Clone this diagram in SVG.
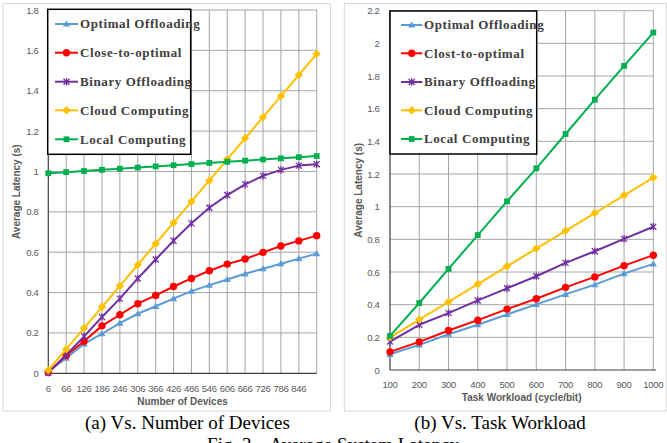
<svg xmlns="http://www.w3.org/2000/svg" xmlns:xlink="http://www.w3.org/1999/xlink" width="667" height="443" viewBox="0 0 667 443">
  <style>
    .frame { fill: #ffffff; stroke: #d9d9d9; stroke-width: 1; }
    .grid { stroke: #a6a6a6; stroke-width: 1; fill: none; }
    .axis { stroke: #404040; stroke-width: 1.2; fill: none; }
    .tick { font-family: "Liberation Sans", Arial, sans-serif; font-size: 9.5px; fill: #595959; letter-spacing: -0.3px; }
    .title { font-family: "Liberation Sans", Arial, sans-serif; font-size: 10px; font-weight: bold; fill: #595959; }
    .legbox { fill: #ffffff; stroke: #000000; stroke-width: 1.5; }
    .legtxt { font-family: "Liberation Serif", "Times New Roman", serif; font-size: 13px; font-weight: bold; fill: #404040; letter-spacing: 0.6px; }
    .caption { font-family: "Liberation Serif", "Times New Roman", serif; font-size: 19px; fill: #000000; white-space: pre; }
    .s-opt { stroke: #5b9bd5; stroke-width: 2; fill: none; stroke-linejoin: round; }
    .s-close { stroke: #ff0000; stroke-width: 2; fill: none; stroke-linejoin: round; }
    .s-bin { stroke: #7030a0; stroke-width: 2; fill: none; stroke-linejoin: round; }
    .s-cloud { stroke: #ffc000; stroke-width: 2; fill: none; stroke-linejoin: round; }
    .s-local { stroke: #00b050; stroke-width: 2; fill: none; stroke-linejoin: round; }
  </style>
  <defs>
    <polygon id="m-tri" points="0,-3.6 3.6,2.6 -3.6,2.6" fill="#5b9bd5"/>
    <circle id="m-dot" r="3.7" fill="#ff0000"/>
    <path id="m-star" d="M-3,-3L3,3M-3,3L3,-3M0,-3.8V3.8" stroke="#7030a0" stroke-width="1.3" fill="none"/>
    <polygon id="m-dia" points="0,-4.2 4.2,0 0,4.2 -4.2,0" fill="#ffc000"/>
    <rect id="m-sq" x="-2.9" y="-2.9" width="5.8" height="5.8" fill="#00b050"/>
  </defs>

  <!-- panel (a): latency vs number of devices -->
  <g id="chart-a">
    <rect class="frame" x="3" y="3.5" width="327.5" height="407.5"/>
    <g id="grid-a">
      <path class="grid" d="M48.3,10H316.7M48.3,50.37H316.7M48.3,90.73H316.7M48.3,131.1H316.7M48.3,171.47H316.7M48.3,211.83H316.7M48.3,252.2H316.7M48.3,292.57H316.7M48.3,332.93H316.7"/>
      <path class="grid" d="M66.19,10V373.3M84.09,10V373.3M101.98,10V373.3M119.87,10V373.3M137.77,10V373.3M155.66,10V373.3M173.55,10V373.3M191.44,10V373.3M209.34,10V373.3M227.23,10V373.3M245.12,10V373.3M263.02,10V373.3M280.91,10V373.3M298.8,10V373.3M316.7,10V373.3"/>
      <path class="axis" d="M48.3,10V373.3H316.7"/>
    </g>
    <g id="yticks-a" class="tick" text-anchor="end">
      <text x="38.5" y="376.8">0</text>
      <text x="38.5" y="336.4">0.2</text>
      <text x="38.5" y="296.1">0.4</text>
      <text x="38.5" y="255.7">0.6</text>
      <text x="38.5" y="215.3">0.8</text>
      <text x="38.5" y="175">1</text>
      <text x="38.5" y="134.6">1.2</text>
      <text x="38.5" y="94.2">1.4</text>
      <text x="38.5" y="53.9">1.6</text>
      <text x="38.5" y="13.5">1.8</text>
    </g>
    <g id="xticks-a" class="tick" text-anchor="middle">
      <text x="48.3" y="391.8">6</text>
      <text x="66.19" y="391.8">66</text>
      <text x="84.09" y="391.8">126</text>
      <text x="101.98" y="391.8">186</text>
      <text x="119.87" y="391.8">246</text>
      <text x="137.77" y="391.8">306</text>
      <text x="155.66" y="391.8">366</text>
      <text x="173.55" y="391.8">426</text>
      <text x="191.44" y="391.8">486</text>
      <text x="209.34" y="391.8">546</text>
      <text x="227.23" y="391.8">606</text>
      <text x="245.12" y="391.8">666</text>
      <text x="263.02" y="391.8">726</text>
      <text x="280.91" y="391.8">786</text>
      <text x="298.8" y="391.8">846</text>
    </g>
    <text class="title" x="182.5" y="404.5" text-anchor="middle">Number of Devices</text>
    <text class="title" transform="translate(20.3,191.7) rotate(-90)" text-anchor="middle">Average Latency (s)</text>
  </g>

  <!-- panel (b): latency vs task workload -->
  <g id="chart-b">
    <rect class="frame" x="344.3" y="3.5" width="322" height="407.5"/>
    <g id="grid-b">
      <path class="grid" d="M390,10.67H653.33M390,43.33H653.33M390,76H653.33M390,108.67H653.33M390,141.33H653.33M390,174H653.33M390,206.67H653.33M390,239.33H653.33M390,272H653.33M390,304.67H653.33M390,337.33H653.33"/>
      <path class="grid" d="M419.26,10.67V370M448.52,10.67V370M477.78,10.67V370M507.04,10.67V370M536.3,10.67V370M565.56,10.67V370M594.81,10.67V370M624.07,10.67V370M653.33,10.67V370"/>
      <path class="axis" d="M390,10.67V370H656"/>
    </g>
    <g id="yticks-b" class="tick" text-anchor="end">
      <text x="379.5" y="373.5">0</text>
      <text x="379.5" y="340.8">0.2</text>
      <text x="379.5" y="308.2">0.4</text>
      <text x="379.5" y="275.5">0.6</text>
      <text x="379.5" y="242.8">0.8</text>
      <text x="379.5" y="210.2">1</text>
      <text x="379.5" y="177.5">1.2</text>
      <text x="379.5" y="144.8">1.4</text>
      <text x="379.5" y="112.2">1.6</text>
      <text x="379.5" y="79.5">1.8</text>
      <text x="379.5" y="46.8">2</text>
      <text x="379.5" y="14.2">2.2</text>
    </g>
    <g id="xticks-b" class="tick" text-anchor="middle">
      <text x="390" y="387.5">100</text>
      <text x="419.26" y="387.5">200</text>
      <text x="448.52" y="387.5">300</text>
      <text x="477.78" y="387.5">400</text>
      <text x="507.04" y="387.5">500</text>
      <text x="536.3" y="387.5">600</text>
      <text x="565.56" y="387.5">700</text>
      <text x="594.81" y="387.5">800</text>
      <text x="624.07" y="387.5">900</text>
      <text x="653.33" y="387.5">1000</text>
    </g>
    <text class="title" x="521.7" y="401" text-anchor="middle">Task Workload (cycle/bit)</text>
    <text class="title" transform="translate(361.8,190.3) rotate(-90)" text-anchor="middle">Average Latency (s)</text>
  </g>

  <!-- data series -->
  <g id="series-a">
    <g id="a-opt">
      <polyline class="s-opt" points="48.3,371.3 66.19,358.16 84.09,343.83 101.98,333.74 119.87,323.04 137.77,313.76 155.66,306.29 173.55,298.62 191.44,291.15 209.34,285.1 227.23,279.45 245.12,273.8 263.02,268.75 280.91,263.71 298.8,258.66 316.7,253.62"/>
      <use href="#m-tri" x="48.3" y="371.3"/><use href="#m-tri" x="66.19" y="358.16"/><use href="#m-tri" x="84.09" y="343.83"/><use href="#m-tri" x="101.98" y="333.74"/><use href="#m-tri" x="119.87" y="323.04"/><use href="#m-tri" x="137.77" y="313.76"/><use href="#m-tri" x="155.66" y="306.29"/><use href="#m-tri" x="173.55" y="298.62"/><use href="#m-tri" x="191.44" y="291.15"/><use href="#m-tri" x="209.34" y="285.1"/><use href="#m-tri" x="227.23" y="279.45"/><use href="#m-tri" x="245.12" y="273.8"/><use href="#m-tri" x="263.02" y="268.75"/><use href="#m-tri" x="280.91" y="263.71"/><use href="#m-tri" x="298.8" y="258.66"/><use href="#m-tri" x="316.7" y="253.62"/>
    </g>
    <g id="a-close">
      <polyline class="s-close" points="48.3,372.29 66.19,355.54 84.09,341.21 101.98,325.87 119.87,314.77 137.77,303.67 155.66,295.39 173.55,286.51 191.44,278.44 209.34,270.77 227.23,264.11 245.12,259.06 263.02,252.4 280.91,245.94 298.8,240.9 316.7,235.65"/>
      <use href="#m-dot" x="48.3" y="372.29"/><use href="#m-dot" x="66.19" y="355.54"/><use href="#m-dot" x="84.09" y="341.21"/><use href="#m-dot" x="101.98" y="325.87"/><use href="#m-dot" x="119.87" y="314.77"/><use href="#m-dot" x="137.77" y="303.67"/><use href="#m-dot" x="155.66" y="295.39"/><use href="#m-dot" x="173.55" y="286.51"/><use href="#m-dot" x="191.44" y="278.44"/><use href="#m-dot" x="209.34" y="270.77"/><use href="#m-dot" x="227.23" y="264.11"/><use href="#m-dot" x="245.12" y="259.06"/><use href="#m-dot" x="263.02" y="252.4"/><use href="#m-dot" x="280.91" y="245.94"/><use href="#m-dot" x="298.8" y="240.9"/><use href="#m-dot" x="316.7" y="235.65"/>
    </g>
    <g id="a-bin">
      <polyline class="s-bin" points="48.3,372.7 66.19,354.93 84.09,336.37 101.98,316.99 119.87,298.62 137.77,278.44 155.66,259.47 173.55,240.7 191.44,223.34 209.34,207.8 227.23,195.08 245.12,184.39 263.02,175.91 280.91,169.86 298.8,165.62 316.7,164.21"/>
      <use href="#m-star" x="48.3" y="372.7"/><use href="#m-star" x="66.19" y="354.93"/><use href="#m-star" x="84.09" y="336.37"/><use href="#m-star" x="101.98" y="316.99"/><use href="#m-star" x="119.87" y="298.62"/><use href="#m-star" x="137.77" y="278.44"/><use href="#m-star" x="155.66" y="259.47"/><use href="#m-star" x="173.55" y="240.7"/><use href="#m-star" x="191.44" y="223.34"/><use href="#m-star" x="209.34" y="207.8"/><use href="#m-star" x="227.23" y="195.08"/><use href="#m-star" x="245.12" y="184.39"/><use href="#m-star" x="263.02" y="175.91"/><use href="#m-star" x="280.91" y="169.86"/><use href="#m-star" x="298.8" y="165.62"/><use href="#m-star" x="316.7" y="164.21"/>
    </g>
    <g id="a-cloud">
      <polyline class="s-cloud" points="48.3,370.27 66.19,349.18 84.09,328.09 101.98,306.99 119.87,285.91 137.77,264.81 155.66,243.72 173.55,222.63 191.44,201.54 209.34,180.45 227.23,159.36 245.12,138.27 263.02,117.17 280.91,96.08 298.8,74.99 316.7,53.9"/>
      <use href="#m-dia" x="48.3" y="370.27"/><use href="#m-dia" x="66.19" y="349.18"/><use href="#m-dia" x="84.09" y="328.09"/><use href="#m-dia" x="101.98" y="306.99"/><use href="#m-dia" x="119.87" y="285.91"/><use href="#m-dia" x="137.77" y="264.81"/><use href="#m-dia" x="155.66" y="243.72"/><use href="#m-dia" x="173.55" y="222.63"/><use href="#m-dia" x="191.44" y="201.54"/><use href="#m-dia" x="209.34" y="180.45"/><use href="#m-dia" x="227.23" y="159.36"/><use href="#m-dia" x="245.12" y="138.27"/><use href="#m-dia" x="263.02" y="117.17"/><use href="#m-dia" x="280.91" y="96.08"/><use href="#m-dia" x="298.8" y="74.99"/><use href="#m-dia" x="316.7" y="53.9"/>
    </g>
    <g id="a-local">
      <polyline class="s-local" points="48.3,173.28 66.19,172.13 84.09,170.98 101.98,169.83 119.87,168.68 137.77,167.53 155.66,166.38 173.55,165.23 191.44,164.08 209.34,162.93 227.23,161.78 245.12,160.63 263.02,159.48 280.91,158.32 298.8,157.17 316.7,156.02"/>
      <use href="#m-sq" x="48.3" y="173.28"/><use href="#m-sq" x="66.19" y="172.13"/><use href="#m-sq" x="84.09" y="170.98"/><use href="#m-sq" x="101.98" y="169.83"/><use href="#m-sq" x="119.87" y="168.68"/><use href="#m-sq" x="137.77" y="167.53"/><use href="#m-sq" x="155.66" y="166.38"/><use href="#m-sq" x="173.55" y="165.23"/><use href="#m-sq" x="191.44" y="164.08"/><use href="#m-sq" x="209.34" y="162.93"/><use href="#m-sq" x="227.23" y="161.78"/><use href="#m-sq" x="245.12" y="160.63"/><use href="#m-sq" x="263.02" y="159.48"/><use href="#m-sq" x="280.91" y="158.32"/><use href="#m-sq" x="298.8" y="157.17"/><use href="#m-sq" x="316.7" y="156.02"/>
    </g>
  </g>

  <g id="series-b">
    <g id="b-opt">
      <polyline class="s-opt" points="390,354.32 419.26,344.85 448.52,334.23 477.78,324.76 507.04,314.47 536.3,304.34 565.56,294.38 594.81,284.58 624.07,273.63 653.33,263.83"/>
      <use href="#m-tri" x="390" y="354.32"/><use href="#m-tri" x="419.26" y="344.85"/><use href="#m-tri" x="448.52" y="334.23"/><use href="#m-tri" x="477.78" y="324.76"/><use href="#m-tri" x="507.04" y="314.47"/><use href="#m-tri" x="536.3" y="304.34"/><use href="#m-tri" x="565.56" y="294.38"/><use href="#m-tri" x="594.81" y="284.58"/><use href="#m-tri" x="624.07" y="273.63"/><use href="#m-tri" x="653.33" y="263.83"/>
    </g>
    <g id="b-close">
      <polyline class="s-close" points="390,351.87 419.26,341.91 448.52,330.47 477.78,320.18 507.04,309.08 536.3,298.79 565.56,287.35 594.81,276.9 624.07,265.63 653.33,255.18"/>
      <use href="#m-dot" x="390" y="351.87"/><use href="#m-dot" x="419.26" y="341.91"/><use href="#m-dot" x="448.52" y="330.47"/><use href="#m-dot" x="477.78" y="320.18"/><use href="#m-dot" x="507.04" y="309.08"/><use href="#m-dot" x="536.3" y="298.79"/><use href="#m-dot" x="565.56" y="287.35"/><use href="#m-dot" x="594.81" y="276.9"/><use href="#m-dot" x="624.07" y="265.63"/><use href="#m-dot" x="653.33" y="255.18"/>
    </g>
    <g id="b-bin">
      <polyline class="s-bin" points="390,341.58 419.26,324.76 448.52,313.16 477.78,300.42 507.04,288.33 536.3,276.25 565.56,262.85 594.81,251.26 624.07,238.85 653.33,226.76"/>
      <use href="#m-star" x="390" y="341.58"/><use href="#m-star" x="419.26" y="324.76"/><use href="#m-star" x="448.52" y="313.16"/><use href="#m-star" x="477.78" y="300.42"/><use href="#m-star" x="507.04" y="288.33"/><use href="#m-star" x="536.3" y="276.25"/><use href="#m-star" x="565.56" y="262.85"/><use href="#m-star" x="594.81" y="251.26"/><use href="#m-star" x="624.07" y="238.85"/><use href="#m-star" x="653.33" y="226.76"/>
    </g>
    <g id="b-cloud">
      <polyline class="s-cloud" points="390,337.33 419.26,319.58 448.52,301.83 477.78,284.07 507.04,266.32 536.3,248.56 565.56,230.81 594.81,213.05 624.07,195.3 653.33,177.55"/>
      <use href="#m-dia" x="390" y="337.33"/><use href="#m-dia" x="419.26" y="319.58"/><use href="#m-dia" x="448.52" y="301.83"/><use href="#m-dia" x="477.78" y="284.07"/><use href="#m-dia" x="507.04" y="266.32"/><use href="#m-dia" x="536.3" y="248.56"/><use href="#m-dia" x="565.56" y="230.81"/><use href="#m-dia" x="594.81" y="213.05"/><use href="#m-dia" x="624.07" y="195.3"/><use href="#m-dia" x="653.33" y="177.55"/>
    </g>
    <g id="b-local">
      <polyline class="s-local" points="390,335.86 419.26,303.03 448.52,268.9 477.78,235.09 507.04,201.28 536.3,168.29 565.56,133.99 594.81,99.69 624.07,65.88 653.33,32.56"/>
      <use href="#m-sq" x="390" y="335.86"/><use href="#m-sq" x="419.26" y="303.03"/><use href="#m-sq" x="448.52" y="268.9"/><use href="#m-sq" x="477.78" y="235.09"/><use href="#m-sq" x="507.04" y="201.28"/><use href="#m-sq" x="536.3" y="168.29"/><use href="#m-sq" x="565.56" y="133.99"/><use href="#m-sq" x="594.81" y="99.69"/><use href="#m-sq" x="624.07" y="65.88"/><use href="#m-sq" x="653.33" y="32.56"/>
    </g>
  </g>

  <!-- legends -->
  <g id="legend-a">
    <rect class="legbox" x="47.7" y="9.3" width="143" height="145"/>
    <path class="s-opt" d="M55,24H78"/><use href="#m-tri" x="66.5" y="24"/>
    <text class="legtxt" x="80" y="28.3">Optimal Offloading</text>
    <path class="s-close" d="M55,52.7H78"/><use href="#m-dot" x="66.5" y="52.7"/>
    <text class="legtxt" x="80" y="57">Close-to-optimal</text>
    <path class="s-bin" d="M55,81.7H78"/><use href="#m-star" x="66.5" y="81.7"/>
    <text class="legtxt" x="80" y="86">Binary Offloading</text>
    <path class="s-cloud" d="M55,110.3H78"/><use href="#m-dia" x="66.5" y="110.3"/>
    <text class="legtxt" x="80" y="114.6">Cloud Computing</text>
    <path class="s-local" d="M55,139.3H78"/><use href="#m-sq" x="66.5" y="139.3"/>
    <text class="legtxt" x="80" y="143.6">Local Computing</text>
  </g>
  <g id="legend-b">
    <rect class="legbox" x="390" y="11" width="146.7" height="143"/>
    <path class="s-opt" d="M401,25H422.3"/><use href="#m-tri" x="411.7" y="25"/>
    <text class="legtxt" x="424" y="29.3">Optimal Offloading</text>
    <path class="s-close" d="M401,53.3H422.3"/><use href="#m-dot" x="411.7" y="53.3"/>
    <text class="legtxt" x="424" y="57.6">Clost-to-optimal</text>
    <path class="s-bin" d="M401,82H422.3"/><use href="#m-star" x="411.7" y="82"/>
    <text class="legtxt" x="424" y="86.3">Binary Offloading</text>
    <path class="s-cloud" d="M401,110.3H422.3"/><use href="#m-dia" x="411.7" y="110.3"/>
    <text class="legtxt" x="424" y="114.6">Cloud Computing</text>
    <path class="s-local" d="M401,139H422.3"/><use href="#m-sq" x="411.7" y="139"/>
    <text class="legtxt" x="424" y="143.3">Local Computing</text>
  </g>

  <!-- captions -->
  <g id="captions">
    <text class="caption" x="187.5" y="429" text-anchor="middle">(a) Vs. Number of Devices</text>
    <text class="caption" x="500" y="429" text-anchor="middle">(b) Vs. Task Workload</text>
    <text class="caption" x="333" y="451" text-anchor="middle">Fig. 3.   Average System Latency</text>
  </g>
</svg>
